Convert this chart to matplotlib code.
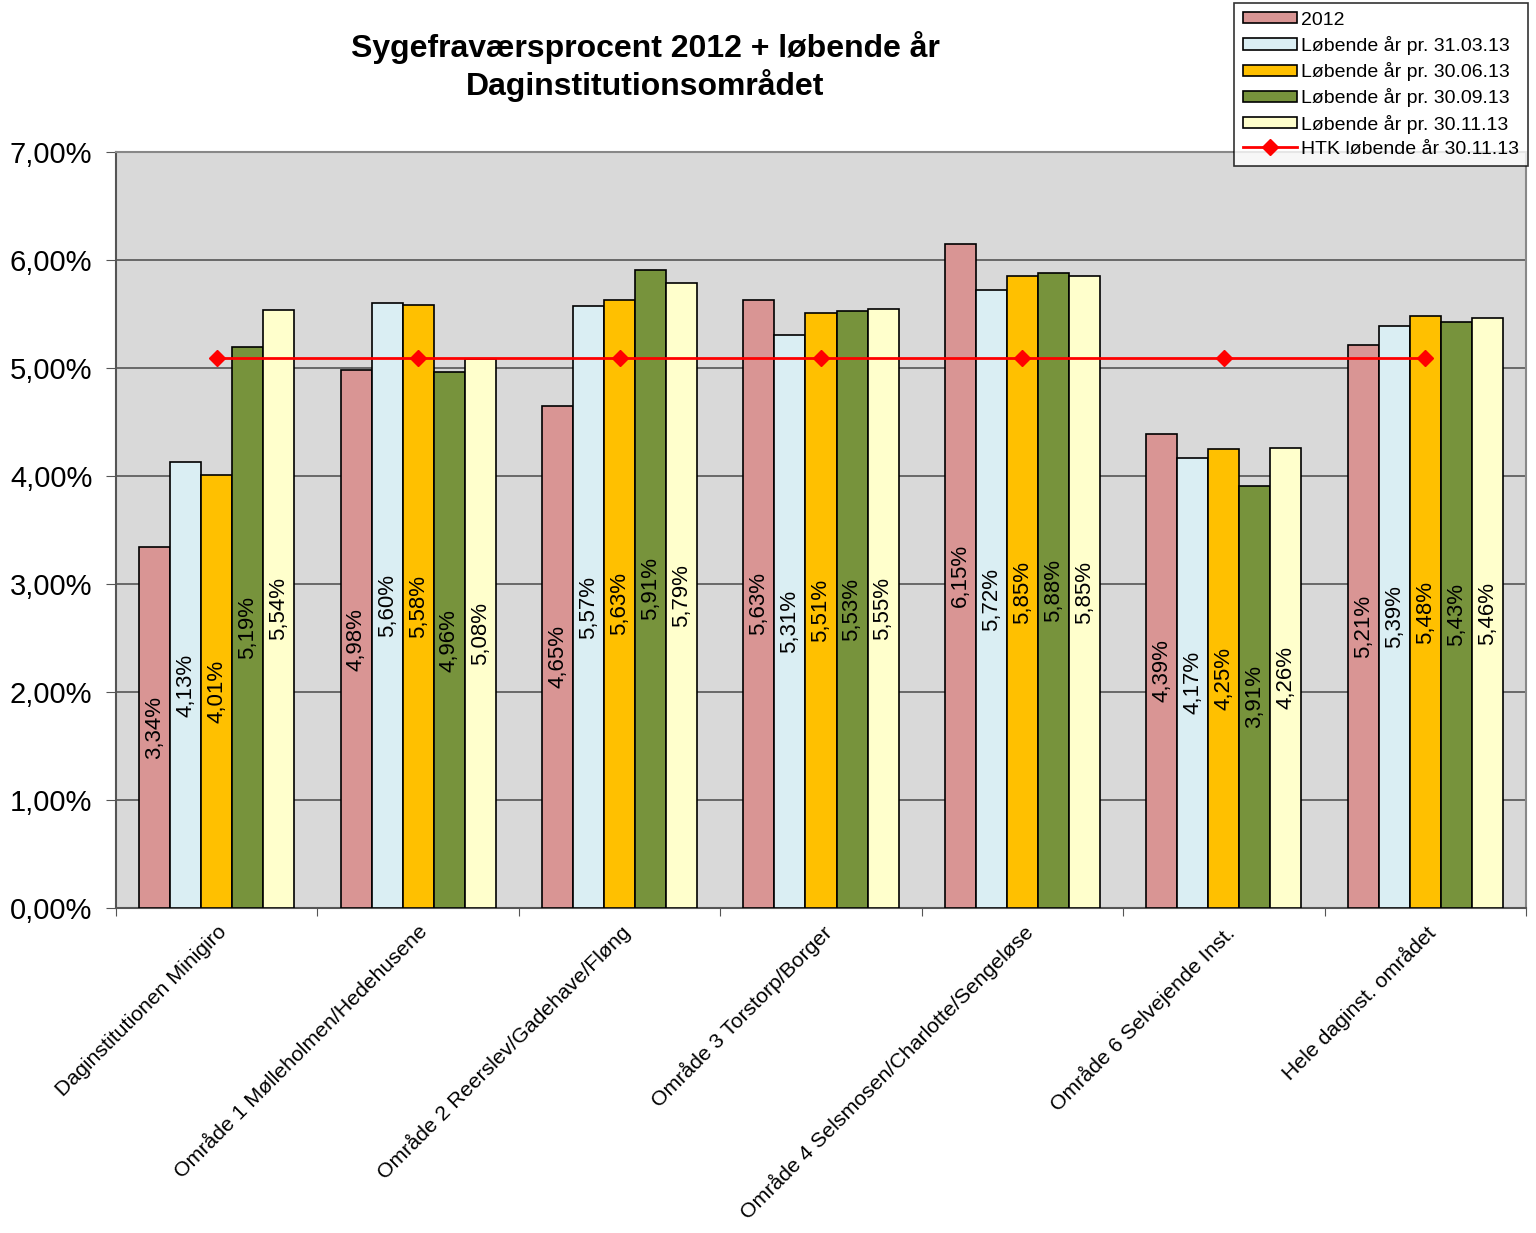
import numpy as np
import matplotlib.pyplot as plt
from matplotlib.ticker import FuncFormatter

plt.rcParams['font.family'] = ['Liberation Sans', 'DejaVu Sans']

categories = ["Daginstitutionen Minigiro", "Område 1 Mølleholmen/Hedehusene",
              "Område 2 Reerslev/Gadehave/Fløng", "Område 3 Torstorp/Borger",
              "Område 4 Selsmosen/Charlotte/Sengeløse", "Område 6 Selvejende Inst.",
              "Hele daginst. området"]
series_names = ["2012", "Løbende år pr. 31.03.13", "Løbende år pr. 30.06.13",
                "Løbende år pr. 30.09.13", "Løbende år pr. 30.11.13"]
v2012 = [3.34, 4.98, 4.65, 5.63, 6.15, 4.39, 5.21]
v0313 = [4.13, 5.60, 5.57, 5.31, 5.72, 4.17, 5.39]
v0613 = [4.01, 5.58, 5.63, 5.51, 5.85, 4.25, 5.48]
v0913 = [5.19, 4.96, 5.91, 5.53, 5.88, 3.91, 5.43]
v1113 = [5.54, 5.08, 5.79, 5.55, 5.85, 4.26, 5.46]
htk = [5.09] * 7
htk_name = "HTK løbende år 30.11.13"

colors = ["#D99594", "#DAEEF3", "#FFC000", "#77933C", "#FFFFCC"]

fig = plt.figure(figsize=(15.36, 12.33), dpi=100)
ax = fig.add_axes([116 / 1536, 1 - 908 / 1233, 1410 / 1536, 756 / 1233])
ax.set_facecolor("#D9D9D9")

x = np.arange(len(categories))
w = 0.154
handles = []
for i, (vals, name, c) in enumerate(zip([v2012, v0313, v0613, v0913, v1113], series_names, colors)):
    pos = x + (i - 2) * w
    b = ax.bar(pos, vals, w, color=c, edgecolor="black", linewidth=1.2, label=name, zorder=3)
    handles.append(b)
    for xp, v in zip(pos, vals):
        ax.text(xp, v / 2, f"{v:.2f}%".replace(".", ","), rotation=90,
                ha="center", va="center", fontsize=16, zorder=4)

ln, = ax.plot(x, htk, color="red", lw=2, marker="D", markersize=8, label=htk_name, zorder=5)
handles.append(ln)

ax.set_xlim(-0.5, len(categories) - 0.5)
ax.set_ylim(0, 7)
ax.set_yticks(np.arange(0, 8, 1))
ax.yaxis.set_major_formatter(FuncFormatter(lambda v, p: f"{v:.2f}%".replace(".", ",")))
ax.tick_params(axis="y", labelsize=21, direction="out", length=7, pad=10, color="#555555")
ax.grid(axis="y", color="#555555", lw=1.2, zorder=1)

ax.set_xticks(np.arange(-0.5, len(categories) + 0.5, 1))
ax.set_xticklabels([])
ax.tick_params(axis="x", direction="out", length=6, color="#555555")
ax.set_xticks(x, minor=True)
ax.set_xticklabels(categories, minor=True, rotation=45, ha="right", va="top",
                   rotation_mode="anchor", fontsize=15.3)
ax.tick_params(axis="x", which="minor", length=0, pad=10)

for s in ["left", "bottom"]:
    ax.spines[s].set_color("#555555")
    ax.spines[s].set_linewidth(1.5)
for s in ["top", "right"]:
    ax.spines[s].set_color("#888888")
    ax.spines[s].set_linewidth(1.5)

fig.text(645 / 1536, 1 - 48 / 1233, "Sygefraværsprocent 2012 + løbende år",
         ha="center", va="center", fontsize=23, fontweight="bold")
fig.text(645 / 1536, 1 - 85 / 1233, "Daginstitutionsområdet",
         ha="center", va="center", fontsize=23, fontweight="bold")

leg = fig.legend(handles=handles, loc="upper right", bbox_to_anchor=(1528 / 1536, 1 - 3 / 1233),
                 borderaxespad=0, fontsize=14, frameon=True, fancybox=False, edgecolor="black",
                 handlelength=2.8, handleheight=0.5, handletextpad=0.2, labelspacing=0.37,
                 borderpad=0.45)
leg.get_frame().set_linewidth(1.2)

fig.savefig("out.png", dpi=100)
